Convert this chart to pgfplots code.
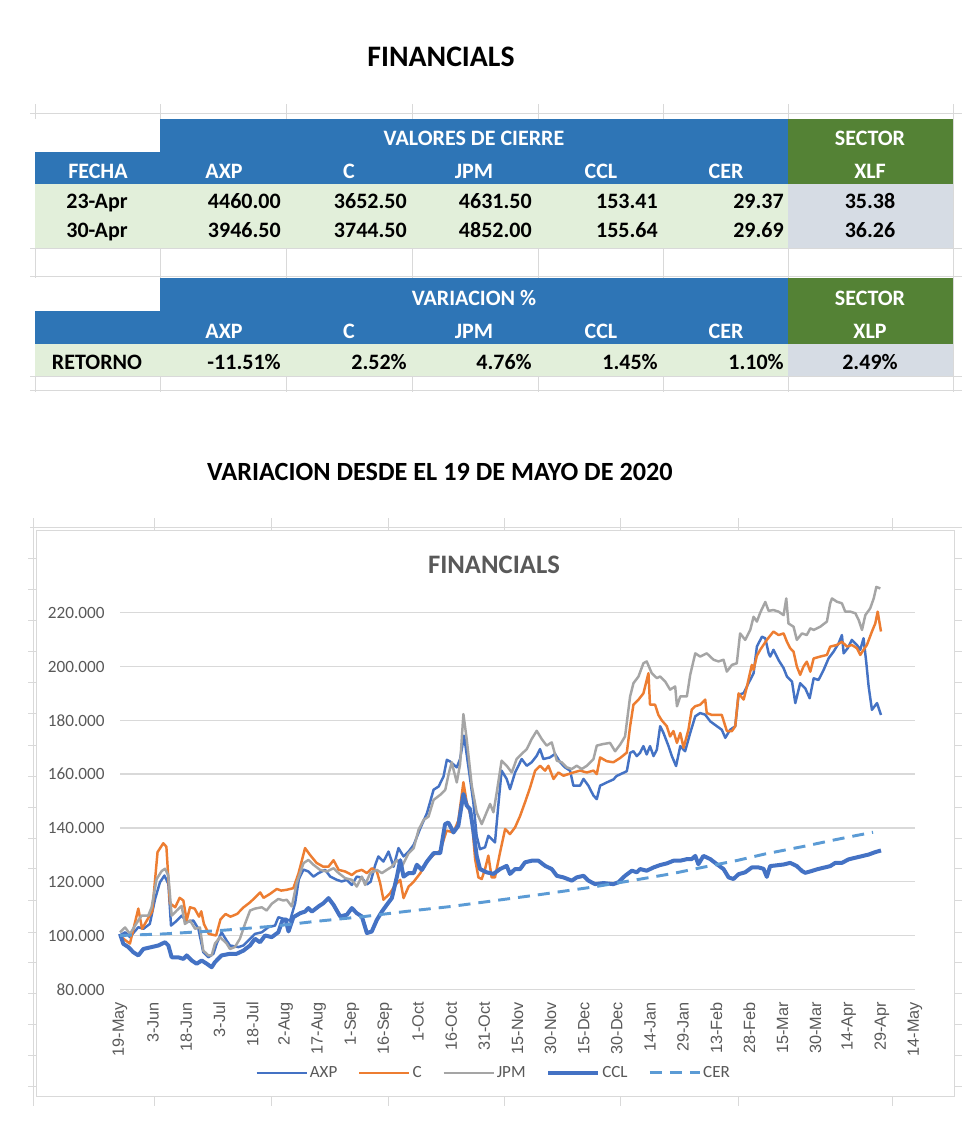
\documentclass[border=0pt]{standalone}
\usepackage{pgfplots}
\pgfplotsset{compat=1.18}
\usepackage{fontspec}
\setmainfont{Carlito}
\newfontfamily\arialfont{Liberation Sans}

\definecolor{hdrblue}{HTML}{2E75B6}
\definecolor{hdrgreen}{HTML}{548235}
\definecolor{rowgreen}{HTML}{E2EFDA}
\definecolor{rowgray}{HTML}{D6DCE4}
\definecolor{sheetgrid}{HTML}{D9D9D9}
\definecolor{axpblue}{HTML}{4472C4}
\definecolor{corange}{HTML}{ED7D31}
\definecolor{jpmgray}{HTML}{A5A5A5}
\definecolor{cerblue}{HTML}{5B9BD5}
\definecolor{txtgray}{HTML}{595959}

\tikzset{
  hdr/.style={text=white, anchor=base, inner sep=0pt, font=\bfseries\fontsize{16.5}{19}\selectfont},
  val/.style={text=black, anchor=base east, inner sep=0pt, font=\bfseries\fontsize{16.5}{19}\selectfont},
  mid/.style={text=black, anchor=base, inner sep=0pt, font=\bfseries\fontsize{16.5}{19}\selectfont},
}

\begin{document}
\begin{tikzpicture}

% ---------- page in pixel units (y downwards) ----------
\begin{scope}[x=0.75pt,y=-0.75pt]

% titles
\node[anchor=base, inner sep=0pt, font=\bfseries\fontsize{22.3}{26}\selectfont] at (441,67) {FINANCIALS};
\node[anchor=base, inner sep=0pt, font=\bfseries\fontsize{19.7}{23}\selectfont] at (440,480) {VARIACION DESDE EL 19 DE MAYO DE 2020};

% spreadsheet grid behind the tables
\foreach \x in {35,160,286,412,538,663,788,953}
  \draw[sheetgrid, line width=0.75pt] (\x,104) -- (\x,392);
\foreach \y in {113,248,276,376,390}
  \draw[sheetgrid, line width=0.75pt] (30,\y) -- (962,\y);

% table 1
\fill[white] (35,119) rectangle (160,152);
\fill[hdrblue] (160,119) rectangle (788,152);
\fill[hdrblue] (35,152) rectangle (788,184);
\fill[hdrgreen] (788,119) rectangle (953,184);
\fill[rowgreen] (35,184) rectangle (788,248);
\fill[rowgray] (788,184) rectangle (953,248);

\node[hdr] at (474,145) {VALORES DE CIERRE};
\node[hdr] at (870,145) {SECTOR};
\node[hdr] at (98,178) {FECHA};
\node[hdr] at (224,178) {AXP};
\node[hdr] at (349,178) {C};
\node[hdr] at (474,178) {JPM};
\node[hdr] at (601,178) {CCL};
\node[hdr] at (726,178) {CER};
\node[hdr] at (870,178) {XLF};

\node[mid] at (97,208.5) {23-Apr};
\node[val] at (281,208.5) {4460.00};
\node[val] at (407,208.5) {3652.50};
\node[val] at (532,208.5) {4631.50};
\node[val] at (658,208.5) {153.41};
\node[val] at (784,208.5) {29.37};
\node[mid] at (870,208.5) {35.38};

\node[mid] at (97,237) {30-Apr};
\node[val] at (281,237) {3946.50};
\node[val] at (407,237) {3744.50};
\node[val] at (532,237) {4852.00};
\node[val] at (658,237) {155.64};
\node[val] at (784,237) {29.69};
\node[mid] at (870,237) {36.26};

% table 2
\fill[white] (35,278) rectangle (160,311);
\fill[hdrblue] (160,278) rectangle (788,311);
\fill[hdrblue] (35,311) rectangle (788,344);
\fill[hdrgreen] (788,278) rectangle (953,344);
\fill[rowgreen] (35,344) rectangle (788,376);
\fill[rowgray] (788,344) rectangle (953,376);

\node[hdr] at (474,305) {VARIACION \%};
\node[hdr] at (870,305) {SECTOR};
\node[hdr] at (224,338) {AXP};
\node[hdr] at (349,338) {C};
\node[hdr] at (474,338) {JPM};
\node[hdr] at (601,338) {CCL};
\node[hdr] at (726,338) {CER};
\node[hdr] at (870,338) {XLP};

\node[mid] at (97,369) {RETORNO};
\node[val] at (281,369) {-11.51\%};
\node[val] at (407,369) {2.52\%};
\node[val] at (532,369) {4.76\%};
\node[val] at (658,369) {1.45\%};
\node[val] at (784,369) {1.10\%};
\node[mid] at (870,369) {2.49\%};

% spreadsheet grid around the chart
\draw[sheetgrid, line width=0.75pt] (33,518) -- (33,1106);
\draw[sheetgrid, line width=0.75pt] (30,527) -- (962,527);
\foreach \x in {154,271,388,504,620,738,892} {
  \draw[sheetgrid, line width=0.75pt] (\x,518) -- (\x,530);
  \draw[sheetgrid, line width=0.75pt] (\x,1096) -- (\x,1106);
}
\foreach \y in {558,589,620,651,682,713,745,776,807,838,868,900,932,962,993,1024,1055,1086}
{
  \draw[sheetgrid, line width=0.75pt] (28,\y) -- (36,\y);
  \draw[sheetgrid, line width=0.75pt] (954,\y) -- (962,\y);
}

% chart area
\filldraw[fill=white, draw=sheetgrid, line width=0.75pt] (36,530) rectangle (954,1096);
\node[anchor=base, inner sep=0pt, text=txtgray, font=\bfseries\fontsize{20}{24}\selectfont] at (494,573) {FINANCIALS};
\end{scope}

\begin{axis}[
  at={(90pt,-741.975pt)}, anchor=south west,
  scale only axis, width=596.25pt, height=282.45pt,
  xmin=0, xmax=360, ymin=80, ymax=220,
  clip=false,
  axis line style={draw=none},
  major tick length=0pt,
  xtick={0,15,...,360},
  xticklabels={19-May,3-Jun,18-Jun,3-Jul,18-Jul,2-Aug,17-Aug,1-Sep,16-Sep,1-Oct,16-Oct,31-Oct,15-Nov,30-Nov,15-Dec,30-Dec,14-Jan,29-Jan,13-Feb,28-Feb,15-Mar,30-Mar,14-Apr,29-Apr,14-May},
  ytick={80,100,...,220},
  yticklabels={80.000,100.000,120.000,140.000,160.000,180.000,200.000,220.000},
  ymajorgrids,
  grid style={color=sheetgrid, line width=1pt},
  xticklabel style={rotate=90, anchor=east, text=txtgray, font=\arialfont\fontsize{12.2}{14}\selectfont},
  yticklabel style={text=txtgray, font=\fontsize{12.9}{15}\selectfont},
  xticklabel shift=6pt,
  yticklabel shift=8pt,
  legend columns=5,
  legend style={at={(0.47,-0.222)}, anchor=center, draw=none, fill=none,
    text=txtgray, font=\fontsize{12.8}{15}\selectfont,
    /tikz/every even column/.append style={column sep=14pt},
    nodes={inner sep=1.5pt}},
  legend image code/.code={\draw[#1] (0pt,0pt) -- (37.5pt,0pt);},
  every axis plot/.append style={line join=round},
]

% AXP
\addplot[color=axpblue, line width=1.85pt] table{
0 100
2.3 101.2
4.5 99.4
8.3 103.1
10.6 102.5
13.5 104.3
15.9 113.6
18.1 119.8
20.1 122.3
21.9 119.2
23.1 103.7
25 105
28 107.4
30.2 105
33.2 105.6
35.5 102.5
37.7 93.8
40 91.9
42.3 93.2
43.8 97
46 101.2
48.3 98.1
49.8 96.3
53.6 95.7
55.9 96.3
58.1 98.1
61.1 100.6
64.2 101.2
67.2 103.1
70.2 103.7
71.7 106.8
74 106.2
75.5 106
77 105.5
79.3 112
81 121
83.1 124.5
85.3 123.8
87.6 121.9
89.9 123.2
92.9 124.4
95.2 121.9
98.2 120.7
100.4 120.1
102.7 120.7
105 118.8
107.2 121.9
109.5 121.5
111.8 119
113.5 120
115.6 126.3
117 129.4
119.3 127.5
121.6 131.2
123.9 125.6
126.1 132.5
128.4 129.4
130.7 131.2
133 133.7
136 139.9
139 145.5
142 154.2
144.3 155.4
146.5 159.1
148 165.3
149.5 164.7
152.5 162.5
154 165.6
155.8 174.3
157.7 163.1
160 149.5
161.5 137.1
163 132.1
165.3 132.8
166.8 137.1
168.3 135.9
169.8 134.6
171.3 148.3
172.8 161.3
175.1 158.2
176.6 154.4
178.9 160.6
181.9 165.6
184.2 163.1
186.4 164.4
188.7 166.8
190.2 169.3
191.7 165.6
194.7 166.2
197 167.5
199.3 164.4
201.5 162.5
203.8 161.3
205.3 155.7
208.3 155.7
209.9 158.2
212.1 155.7
214.4 152
215.9 150.7
217.4 155.7
220.4 156.9
223.4 158
224.9 159.3
228 160.5
229.5 161.1
231 167.9
232.5 168.5
234 166.7
235.5 167.9
237 170.4
238.5 167.3
240 170.4
241.6 166.7
243.1 169.1
244.6 177.8
246.1 175.3
248.4 170.4
249.9 166.7
251.8 163
253.7 170.4
255.9 168.5
258.2 175.3
260.5 181.5
262.7 182.7
265 182.1
267.3 179.6
270.3 177.8
272.5 176.5
274.1 173.5
276.3 176.5
278.6 177.8
280.1 189.5
282.4 190.1
284.6 193.8
286.9 197.5
288.4 207.4
290.7 211.1
292.2 210.5
293.7 205
294.4 203.7
295.9 206.2
298.2 202.4
300.5 199.4
302 196.3
304.3 194.4
305.8 186.4
308 193.8
310.3 191.9
312.3 188.2
314.1 195.6
316.3 195
318.6 198.7
320.9 203.1
323.1 205.5
325.4 208.6
326.9 211.7
327.7 204.9
329.5 206.8
331.4 209.9
333.7 208
335.2 206.2
336.7 210.5
337.9 201.8
339 192.6
340.5 183.9
342.8 186.4
344.6 182
};
\addlegendentry{AXP}

% C
\addplot[color=corange, line width=1.85pt] table{
0 100
2 98.5
4.5 97
8.3 110
10 102.5
13 106.8
14.6 109
17 131
19.6 134.3
21 133
22.6 112
25 110.5
27 114
28.7 113
30.2 105.6
31.7 110.5
33.8 110
35.8 107
36.8 109
38 104.3
40.2 100.6
43.5 100
45.5 106
47.8 108
50 107
53 108
56 110.5
59 112.4
63.5 116
65 114
68 115.5
71 117.3
73 116.7
75.5 117
78.5 117.6
80.8 123
83.8 132.5
86 130
89 127
92 125.6
94.4 125.6
96.7 128
99 124.4
102 123.8
105 122.5
107 123.8
109.5 124.4
111.8 123.2
114 125
116.3 123.8
117.8 119.5
119.3 113.3
122.3 115.7
124.6 118.8
126.9 120.7
128.4 113.9
130.7 118.2
133 120
136 123.2
139 127.5
142 130
145 131.5
147.9 139
151 138.3
153.2 142.7
155.5 157
157 149.5
159.3 143.3
160.8 128.4
162.3 121.6
163.8 121
165.3 124.7
166.8 129.7
168.3 121.6
169.8 121.6
172.1 130.9
174.4 139.6
176.6 137.7
178.9 140.2
181.2 144.5
183.4 149.5
185.7 155
188 161.3
190.2 163.1
192.5 161.3
194 163.1
196.3 158.2
198.5 160.6
200.8 159.4
203 160
205.3 160.6
208.3 161.3
211.4 160.6
214.4 161.3
215.9 160
217.4 166.2
220.4 164.8
223.4 164.4
226.5 166
229.5 168
231 177.8
232.5 185.8
234.8 187.7
237 190
239.3 197.5
240 185.8
242.3 185.8
243.8 182
245.3 180
247.6 177.8
249.1 174
250.6 176
252.2 171.6
253.7 175.3
255.2 169.8
257.4 176.5
258.9 184
260.4 185.2
262.7 185.8
265 187.7
265.7 182.7
268 182
270.3 182
272.5 182
274.8 176
277.1 176
278.6 177.8
280.1 190
282.4 187.7
283.9 192.6
286.1 200.6
286.9 198.8
288.4 204
289.9 206.2
292.9 209.9
295.9 213
298.2 211.7
300.5 212.3
302 209.2
303.5 206.8
305 205.5
306.5 200
308 196.9
309.5 200
311 201.8
312.6 198.1
314.1 203
317.1 203.7
320.1 204.3
321.6 207.4
324.6 208
326.9 209.2
329.2 207.4
331.4 208
333.7 206.8
335.2 204.3
336.7 206.2
338.2 208
340.5 213
342 216
343.1 220.4
344.6 213
};
\addlegendentry{C}

% JPM
\addplot[color=jpmgray, line width=1.85pt] table{
0 101.2
2.3 103
4.5 100.6
8.3 105.6
9.8 107.4
12.8 107.4
14.3 110.5
16.6 121
18.9 124
20.4 124.8
21.9 122.3
23.4 107.4
25.7 109.3
27.9 111
29.4 104.3
31.7 105.6
34 102.5
36.2 103
37.7 94.4
40 92.6
41.5 92.6
43 97
45.3 99.4
48.3 97
49.8 95
52 95.7
54.3 98.8
56.6 104.3
58.9 109.3
61.1 110
64.2 110.5
66.4 109.3
68.7 111.8
71.7 113.6
74 113
75.5 113.3
77.8 110.8
80 119.5
83.1 126.9
85.3 128.1
87.6 126.3
90.6 124.4
93.6 123.8
96.7 125
99 123.2
102 121.3
105 120.7
107.2 118.2
109.5 121.9
111 118.8
113.3 123.2
116.3 124.4
118.6 123.2
120.8 124.4
123.1 125.6
125.4 128.1
127.6 125.6
130.7 130.6
133 132.5
135.2 139.3
137.5 143
139.7 144.2
142 150.4
145 152.3
147.3 154.2
148.8 160
150.2 164.4
152.5 156.9
154 163.7
155.5 182.3
157 173
159.3 155.7
161.5 145.8
163.8 141.4
166 145.8
167.6 148.9
169.1 145.8
170.6 153.2
172.8 165
175.1 163.1
177.4 160.6
179.6 165.6
181.9 167.5
184.2 169.3
186.4 173
188.7 176.1
191 173
193.2 170.6
195.5 171.8
197.8 165
200 164.4
202.3 162.5
204.6 161.9
206.8 163.1
209.1 161.9
211.4 163.1
214.4 165.6
215.9 170.6
218.9 171.2
221.9 171.6
224.2 168.5
226.5 171
228.7 174
231 188.9
232.5 193.8
234.8 196.3
237 201.2
238.5 201.9
240.8 197.5
243.1 195.7
244.6 196.3
246.9 194.4
249.1 191.4
251.4 192.6
252.2 185.2
253.7 188.9
256.7 188.9
258.2 196.9
260.5 204.9
262.7 203.7
265.7 204.9
268.8 202.5
271 201.9
273.3 202.5
274.8 198.1
277.1 200.6
279.3 201.2
280.8 212.3
283.1 209.9
285.4 213.6
286.9 218.5
288.4 216.7
289.9 220
292.2 224
293.7 220.7
295.9 221
298.2 220.4
300.5 219.1
301.7 225.3
302.7 216
305 214.8
306.5 209.9
308.8 212.3
311 211.7
312.6 214.2
314.1 213.6
317.1 214.8
320.1 216.7
321.6 223.5
322.4 225.3
324.6 224.1
326.9 223.5
328.4 220.4
330.7 220.4
333 219.8
334.5 217.3
336 213.6
337.5 219.1
339.7 221.6
341.3 225.3
342.5 229.6
344.3 229
};
\addlegendentry{JPM}

% CCL
\addplot[color=axpblue, line width=3pt] table{
0 100.6
1.5 96.9
3.8 95.7
6 93.8
8.3 92.6
10.6 95
14.3 95.7
17.4 96.3
20.4 97.5
21.9 96.3
23.4 91.9
26.4 91.9
28.7 91.3
30.2 92.6
32.5 90.7
34.7 89.5
37 90.7
39.3 89.5
41.5 88.2
43 90.1
46 92.6
49.8 93.2
52.8 93.2
55.9 94.4
58.9 96.3
61.1 98.8
63.4 97.5
65.7 100
68.7 99.4
71.7 101.2
73.5 105.5
75 106
76.3 101.5
78.5 106.8
81.6 108.3
83.8 108.9
85.3 110.2
86.9 108.9
89.9 110.8
92.1 112
94.4 113.9
96.7 111.4
99.7 107.1
102.7 107.7
105 110.2
107.2 108.3
109.5 107.1
111.8 100.9
114 101.5
116.3 105.8
118.6 108.9
120.8 111.4
123.1 113.9
125.4 121.9
126.9 128
128.4 121.9
130.7 123.2
133 123.2
134.4 126.3
136.7 124.4
139 127.5
142 130.6
145 130.6
147.2 141.4
148.7 142
151 138.3
153.2 140.8
155.5 152.6
157 148.3
158.5 147
160 139
161.5 129.7
163 124.7
166 123.5
169.1 122.9
172.1 124.7
175.1 125.9
176.6 122.9
178.9 124.7
181.2 124.7
183.4 127.2
186.4 127.8
189.5 127.8
192.5 125.9
195.5 124.7
197.8 122.2
200.8 121.6
204.6 120.4
206.8 121.6
209.9 122.2
212.1 120.4
215.1 119.1
218.9 119.5
221.2 119.3
223.4 119.1
225.7 119.8
228.7 122.2
231.8 124.1
234 123.5
235.5 124.7
238.5 124.1
241.6 125.3
244.6 126.2
247.6 126.8
250.6 127.8
253.7 127.8
256.7 128.4
258.9 128.4
260.5 129.6
261.9 126.5
264.2 129.6
267.3 128.4
270.3 126.5
273.3 124.7
275.6 121.6
277.8 121
280.1 122.8
283.1 123.5
286.1 125.3
289.2 125.3
291.4 124.8
292.9 121.8
294.4 125.8
297.4 126.1
300.5 126.4
303.5 127
306.5 125.8
308.8 124
310.3 123.3
313.3 124
315.6 124.6
318.6 125.2
321.6 125.8
323.9 127
326.9 127
329.9 128.3
332.9 128.9
336 129.5
339 130.1
342 131
344.6 131.6
};
\addlegendentry{CCL}

% CER
\addplot[color=cerblue, line width=2.2pt, dash pattern=on 9pt off 6pt] table{
0 100
20 100.6
46 101.9
70 103.5
88 105.2
110 107
130 109
150 110.8
170 113
190 115.2
214 118
233 120.6
250 123
263 125.2
280 128
292 130.3
310 133.2
325 135.8
341 138.4
};
\addlegendentry{CER}

\end{axis}

\pgfresetboundingbox
\useasboundingbox (0pt,0pt) rectangle (735pt,-843pt);
\end{tikzpicture}
\end{document}
